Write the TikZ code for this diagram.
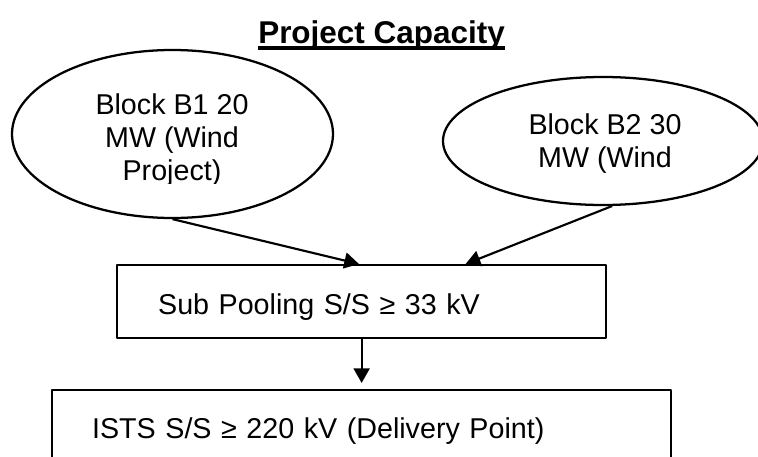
\documentclass[tikz,border=0pt]{standalone}
\usepackage{fontspec}
\setmainfont{Liberation Sans}
\usetikzlibrary{shapes.geometric,arrows.meta}
\tikzset{
  blockell/.style={draw,ellipse,line width=1.7pt,inner sep=0pt},
  blocktxt/.style={anchor=base,align=center,inner sep=0pt,font=\fontsize{21.5}{24.75}\selectfont},
  ssbox/.style={draw,rectangle,line width=1.7pt,inner sep=0pt,align=left,font=\fontsize{21.5}{24.75}\selectfont},
  feed/.style={line width=1.6pt,-{Triangle[length=11pt,width=12pt]}}
}
\begin{document}
\begin{tikzpicture}[x=.75pt,y=-.75pt,line join=round]
\useasboundingbox (0,0) rectangle (758,457);
\clip (0,0) rectangle (758,457);
\node[anchor=base west,inner sep=0pt,font=\bfseries\fontsize{23.6}{28}\selectfont] (title) at (258,43) {Project Capacity\ };
\draw[line width=2.3pt] ([yshift=-3.75pt]title.base west) -- ([yshift=-3.75pt]title.base east);
\node[blockell,minimum width=240.75pt,minimum height=126pt] (b1) at (172.5,134) {};
\node[blockell,minimum width=240pt,minimum height=96pt] (b2) at (603,141) {};
\begin{scope}
\clip (60,80) rectangle (290,183);
\node[blocktxt] (b1txt) at (172,180) {Block B1 20\\MW (Wind\\Project)};
\end{scope}
\begin{scope}
\clip (480,100) rectangle (730,174);
\node[blocktxt] (b2txt) at (605,167) {Block B2 30\\MW (Wind};
\end{scope}
\node[ssbox,anchor=north west,minimum width=366.75pt,minimum height=54.75pt,text width=305.25pt,text height=21pt,text depth=2.25pt] (sub) at (116,264) {Sub Pooling S/S ≥ 33 kV};
\node[ssbox,anchor=north west,minimum width=464.25pt,minimum height=57pt,text width=404.25pt,text height=19.5pt,text depth=4.5pt] (ists) at (51,389) {ISTS S/S ≥ 220 kV (Delivery Point)};
\draw[feed] (b1.south) -- ([xshift=-2pt]sub.north);
\draw[feed] (b2.-82) -- ([xshift=78pt]sub.north);
\draw[feed,shorten >=4.5pt] (sub.south) -- (ists.north);
\end{tikzpicture}
\end{document}
